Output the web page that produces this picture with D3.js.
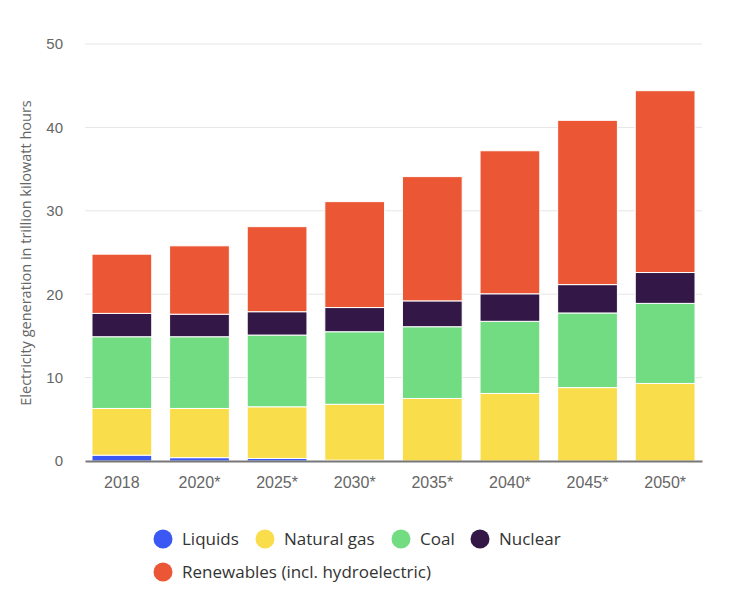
<!DOCTYPE html>
<html>
<head>
<meta charset="utf-8">
<script src="https://cdn.jsdelivr.net/npm/d3@7"></script>
<style>
  body { margin: 0; background: #fff; }
  svg { display: block; font-family: "Open Sans", "Noto Sans", sans-serif; }
</style>
</head>
<body>
<svg id="chart"></svg>
<script>
const years = ["2018", "2020*", "2025*", "2030*", "2035*", "2040*", "2045*", "2050*"];
const sources = ["Liquids", "Natural gas", "Coal", "Nuclear", "Renewables (incl. hydroelectric)"];

const liquids = [0.7, 0.4, 0.3, 0.1, 0, 0, 0, 0];
const naturalGas = [5.6, 5.9, 6.2, 6.7, 7.5, 8.1, 8.8, 9.3];
const coal = [8.6, 8.6, 8.6, 8.7, 8.6, 8.65, 8.95, 9.6];
const nuclear = [2.8, 2.7, 2.8, 2.9, 3.1, 3.3, 3.4, 3.7];
const renewables = [7.1, 8.2, 10.2, 12.7, 14.9, 17.15, 19.7, 21.8];

const yTicks = [0, 10, 20, 30, 40, 50];

const colors = {
  "Liquids": "#3b57f4",
  "Natural gas": "#f9dd4a",
  "Coal": "#72dc82",
  "Nuclear": "#331847",
  "Renewables (incl. hydroelectric)": "#eb5735"
};

const seriesValues = [liquids, naturalGas, coal, nuclear, renewables];
const tableData = years.map((y, i) => {
  const row = { year: y };
  sources.forEach((s, j) => { row[s] = seriesValues[j][i]; });
  return row;
});

const width = 729;
const height = 600;
const margin = { top: 44, right: 27, bottom: 139, left: 85 };

const svg = d3.select("#chart")
  .attr("width", width)
  .attr("height", height);

const xScale = d3.scaleBand()
  .domain(years)
  .range([margin.left, width - margin.right])
  .paddingInner(0.23)
  .paddingOuter(0.09);

const yScale = d3.scaleLinear()
  .domain([0, 50])
  .range([height - margin.bottom, margin.top]);

// gridlines
svg.append("g")
  .selectAll("line")
  .data(yTicks.filter(d => d > 0))
  .enter()
  .append("line")
  .attr("x1", margin.left)
  .attr("x2", width - margin.right)
  .attr("y1", d => yScale(d))
  .attr("y2", d => yScale(d))
  .attr("stroke", "#e6e6e6")
  .attr("stroke-width", 1);

const stack = d3.stack().keys(sources);
const stackedData = stack(tableData);

svg.append("g")
  .selectAll("g")
  .data(stackedData)
  .enter()
  .append("g")
  .attr("fill", d => colors[d.key])
  .selectAll("rect")
  .data(d => d.filter(p => p[1] - p[0] > 0))
  .enter()
  .append("rect")
  .attr("x", d => xScale(d.data.year))
  .attr("width", xScale.bandwidth())
  .attr("y", d => yScale(d[1]))
  .attr("height", d => yScale(d[0]) - yScale(d[1]))
  .attr("stroke", "#fff")
  .attr("stroke-width", 1);

// y axis labels
const yAxis = d3.axisLeft(yScale)
  .tickValues(yTicks)
  .tickSize(0)
  .tickPadding(22);

svg.append("g")
  .attr("transform", `translate(${margin.left},0)`)
  .call(yAxis)
  .call(g => g.select(".domain").remove())
  .selectAll("text")
  .style("font-size", "15px")
  .attr("fill", "#666");

// x axis
const xAxis = d3.axisBottom(xScale)
  .tickSize(0)
  .tickPadding(16);

svg.append("g")
  .attr("transform", `translate(0,${height - margin.bottom})`)
  .call(xAxis)
  .call(g => g.select(".domain")
    .attr("stroke", "#777")
    .attr("stroke-width", 2))
  .selectAll("text")
  .style("font-size", "16px")
  .attr("fill", "#666");

svg.append("text")
  .attr("transform", "rotate(-90)")
  .attr("x", -253)
  .attr("y", 31)
  .attr("text-anchor", "middle")
  .style("font-size", "14.5px")
  .attr("fill", "#666")
  .text("Electricity generation in trillion kilowatt hours");

// legend
const legendPos = [
  { x: 163, y: 539 },
  { x: 265, y: 539 },
  { x: 401, y: 539 },
  { x: 480, y: 539 },
  { x: 163, y: 572 }
];

const legend = svg.append("g").attr("class", "legend");

const legendItems = legend.selectAll(".legend-item")
  .data(sources)
  .enter()
  .append("g")
  .attr("class", "legend-item")
  .attr("transform", (d, i) => `translate(${legendPos[i].x},${legendPos[i].y})`);

legendItems.append("circle")
  .attr("r", 9.5)
  .attr("fill", d => colors[d]);

legendItems.append("text")
  .attr("x", 19)
  .attr("dy", "0.35em")
  .style("font-size", "17px")
  .style("font-weight", "500")
  .attr("fill", "#333")
  .text(d => d);
</script>
</body>
</html>
